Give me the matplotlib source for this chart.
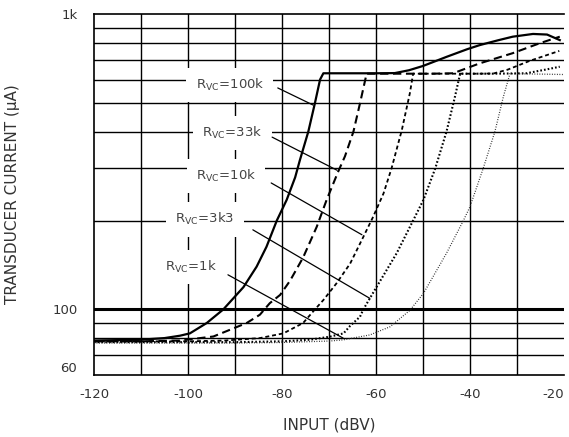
import matplotlib
matplotlib.use('Agg')
import matplotlib.pyplot as plt

# curves: input (dBV) vs transducer current (uA)
x_100k = [-120, -110, -105, -101.7, -99.6, -96.0, -92.5, -88.2, -85.4, -83.3, -81.1, -79.0,
          -77.2, -76.2, -74.4, -73.0, -71.9, -71.2, -65, -60, -56, -53, -50, -44.9, -40.6,
          -37.9, -34, -30.9, -26.6, -23.6, -20.9]
y_100k = [78.5, 79, 80, 81.5, 83, 90, 100, 119, 139.6, 163, 200, 235,
          280, 320, 400, 499, 600, 630, 630, 630, 631, 645, 667, 717, 760,
          785, 815, 838, 856, 852, 816]

x_33k = [-120, -110, -101.7, -94.6, -87.5, -84.7, -82.6, -80.4, -78.3, -75.5, -72.6, -70.5,
         -68.0, -66.6, -64.8, -63.4, -62.0, -55, -48, -43.6, -37.9, -30.9, -25.1, -20.9]
y_33k = [78, 78, 78.5, 81, 90, 96, 105, 112, 125, 150, 190.6, 235,
         294, 330, 400, 499, 628, 628, 628, 630, 681, 737, 797, 838]

x_10k = [-120, -110, -100, -92, -84.7, -79.7, -75.5, -73.0, -71.2, -68.4, -65.5, -62.7,
         -60.6, -58.4, -56.7, -54.5, -52.8, -52.1, -45, -38, -35, -32, -27.2, -21]
y_10k = [78, 78, 78, 78.5, 80, 83, 90, 100, 107.6, 122.6, 143, 176,
         206, 247, 300, 405, 539, 628, 628, 628, 629, 648, 695, 750]

x_3k3 = [-120, -110, -100, -90, -80, -74, -69.8, -66.9, -65.5, -63.4, -62.7, -59.9, -55.6,
         -52.1, -49.9, -47.4, -45.0, -43.2, -42.1, -35, -28, -24, -20.9]
y_3k3 = [77.5, 77.5, 77.5, 77.5, 78, 79, 80.9, 83, 88, 94.5, 100, 119, 155,
         200, 235, 300, 400, 525, 628, 628, 630, 648, 663]

x_1k = [-120, -110, -100, -90, -80, -69.8, -67.0, -61.3, -57.0, -52.8, -49.9, -45.0, -41.4,
        -40.0, -37.2, -34.7, -32.9, -31.5, -25, -20]
y_1k = [77, 77, 77, 77, 77.3, 78.2, 78.9, 82, 87.4, 99.3, 113.4, 155, 200,
        222.7, 300, 400, 525, 628, 626, 624]

labels = ['R$_\\mathregular{VC}$=100k', 'R$_\\mathregular{VC}$=33k', 'R$_\\mathregular{VC}$=10k',
          'R$_\\mathregular{VC}$=3k3', 'R$_\\mathregular{VC}$=1k']

x_ticks = [-120, -100, -80, -60, -40, -20]
y_ticks = [60, 100, 1000]
y_tick_labels = ['60', '100', '1k']
y_grid = [70, 80, 90, 200, 300, 400, 500, 600, 700, 800, 900]
x_grid = [-110, -100, -90, -80, -70, -60, -50, -40, -30]

# label placement: text centre, leader start, leader end (data coords)
label_pos = [(-91.1, 575), (-90.6, 396), (-91.9, 283), (-96.4, 202), (-99.4, 139)]
leader_start = [(-80.9, 562), (-82.1, 383), (-82.3, 268), (-86.2, 186), (-91.5, 131)]
leader_end = [(-73.4, 492), (-68.3, 296), (-63.0, 179), (-61.3, 109), (-67.0, 80)]

TXT = '#333333'

fig = plt.figure(figsize=(5.69, 4.37), dpi=100)
ax = fig.add_axes([94 / 569, 62 / 437, 470 / 569, 361 / 437])
ax.set_yscale('log')
ax.set_xlim(-120, -20)
ax.set_ylim(60, 1000)

for yv in y_grid:
    ax.axhline(yv, color='black', lw=1.0, zorder=1)
ax.axhline(100, color='black', lw=2.2, zorder=1)
for xv in x_grid:
    ax.axvline(xv, color='black', lw=1.0, zorder=1)

ax.plot(x_100k, y_100k, color='black', lw=1.6, zorder=3)
ax.plot(x_33k, y_33k, color='black', lw=1.5, dashes=(4, 2.2), zorder=3)
ax.plot(x_10k, y_10k, color='black', lw=1.3, dashes=(2.2, 1.6), zorder=3)
ax.plot(x_3k3, y_3k3, color='black', lw=1.5, dashes=(0.8, 1.0), zorder=3)
ax.plot(x_1k, y_1k, color='#222222', lw=0.9, dashes=(0.7, 1.3), zorder=3)

for lab, pos, s, e in zip(labels, label_pos, leader_start, leader_end):
    ax.text(pos[0], pos[1], lab, ha='center', va='center', fontsize=9.5, color='#444444', zorder=4,
            bbox=dict(boxstyle='square,pad=0.7', fc='white', ec='none'))
    ax.annotate('', xy=e, xytext=s, zorder=5,
                arrowprops=dict(arrowstyle='-', color='black', lw=0.9, shrinkA=0, shrinkB=0))

ax.set_xticks(x_ticks)
ax.set_xticklabels([str(v) for v in x_ticks])
ax.set_yticks(y_ticks)
ax.set_yticklabels(y_tick_labels)
ax.yaxis.set_minor_locator(matplotlib.ticker.NullLocator())
ax.tick_params(length=0, labelsize=9.5, colors=TXT)
ax.tick_params(axis='x', pad=9)
ax.tick_params(axis='y', pad=12)
ax.get_xticklabels()[-1].set_ha('right')
ax.get_yticklabels()[0].set_va('bottom')

for side in ['top', 'left', 'bottom']:
    ax.spines[side].set_linewidth(1.2)
ax.spines['right'].set_visible(False)

ax.set_xlabel('INPUT (dBV)', fontsize=11, color=TXT)
ax.set_ylabel('TRANSDUCER CURRENT (µA)', fontsize=11, color=TXT)
ax.xaxis.set_label_coords(0.5, -0.119)
ax.yaxis.set_label_coords(-0.157, 0.5)

fig.savefig('out.png', dpi=100)
